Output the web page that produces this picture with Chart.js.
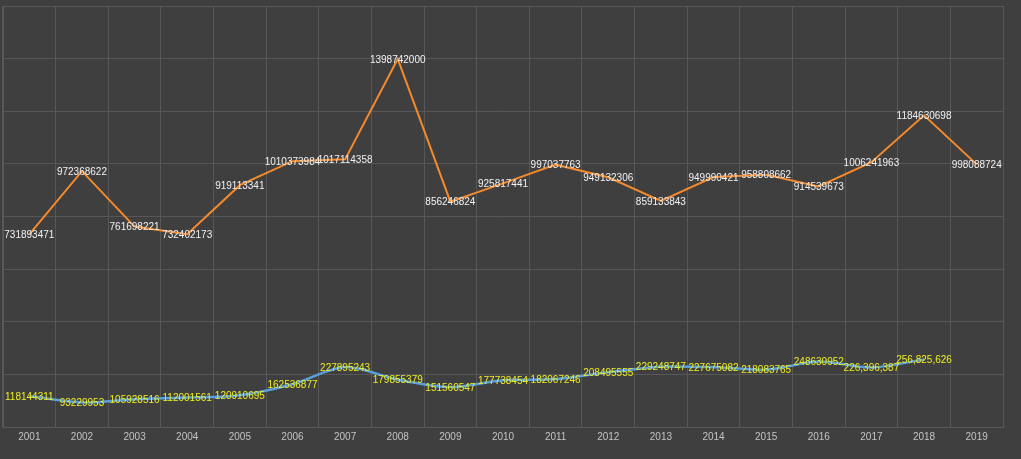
<!DOCTYPE html>
<html><head><meta charset="utf-8">
<script src="https://cdn.jsdelivr.net/npm/chart.js@4/dist/chart.umd.min.js"></script>
<style>
html,body{margin:0;padding:0;background:#3f3f3f;}
#wrap{width:1021px;height:459px;position:relative;}
</style></head>
<body><div id="wrap"><canvas id="c" width="1021" height="459"></canvas></div>
<script>
const categories = ["2001","2002","2003","2004","2005","2006","2007","2008","2009","2010","2011","2012","2013","2014","2015","2016","2017","2018","2019"];
const seriesOrange = [731893471,972368622,761698221,732402173,919113341,1010373984,1017114358,1398742000,856246824,925817441,997037763,949132306,859133843,949990421,958808662,914539673,1006241963,1184630698,998088724];
const seriesBlue = [118144311,93229953,105928516,112001561,120910695,162536877,227895243,179855379,151560547,177738454,182067246,208495555,229248747,227675082,218083765,248630952,226396387,256825626,null];
const labelsOrange = seriesOrange.map(v => String(v));
const labelsBlue = ["118144311","93229953","105928516","112001561","120910695","162536877","227895243","179855379","151560547","177738454","182067246","208495555","229248747","227675082","218083765","248630952","226,396,387","256,825,626",""];
const yMax = 1600000000;
const yStep = 200000000;

const pointLabels = {
  id:'pointLabels',
  afterDatasetsDraw(chart){
    const ctx = chart.ctx;
    ctx.save();
    ctx.font = '10px "Liberation Sans", Arial, sans-serif';
    ctx.textAlign = 'center';
    ctx.textBaseline = 'middle';
    chart.data.datasets.forEach((ds, di) => {
      const meta = chart.getDatasetMeta(di);
      ctx.fillStyle = ds.labelColor;
      meta.data.forEach((pt, i) => {
        const t = ds.pointText[i];
        if (!t || ds.data[i] == null) return;
        ctx.fillText(t, pt.x, pt.y + 1);
      });
    });
    ctx.restore();
  }
};

new Chart(document.getElementById('c'), {
  type:'line',
  data:{
    labels: categories,
    datasets:[
      {data: seriesOrange, borderColor:'#f58a2c', borderWidth:2, pointRadius:0, tension:0, pointText: labelsOrange, labelColor:'#f2f2f2'},
      {data: seriesBlue, borderColor:'#5a9fdc', borderWidth:2.5, pointRadius:0, tension:0.3, pointText: labelsBlue, labelColor:'#eeee22'}
    ]
  },
  options:{
    responsive:false,
    animation:false,
    devicePixelRatio:1,
    layout:{padding:{left:3,top:6,right:18,bottom:12}},
    plugins:{legend:{display:false}, tooltip:{enabled:false}},
    scales:{
      x:{
        offset:true,
        grid:{offset:true, color:'#575757', lineWidth:1, drawTicks:false},
        border:{color:'#5a5a5a'},
        ticks:{color:'#c4c4c4', font:{size:10, family:'"Liberation Sans", Arial, sans-serif'}, padding:4, maxRotation:0, autoSkip:false}
      },
      y:{
        min:0, max:yMax,
        grid:{color:'#575757', lineWidth:1, drawTicks:false},
        border:{color:'#5a5a5a'},
        ticks:{display:false, stepSize:yStep}
      }
    }
  },
  plugins:[pointLabels]
});
</script></body></html>
